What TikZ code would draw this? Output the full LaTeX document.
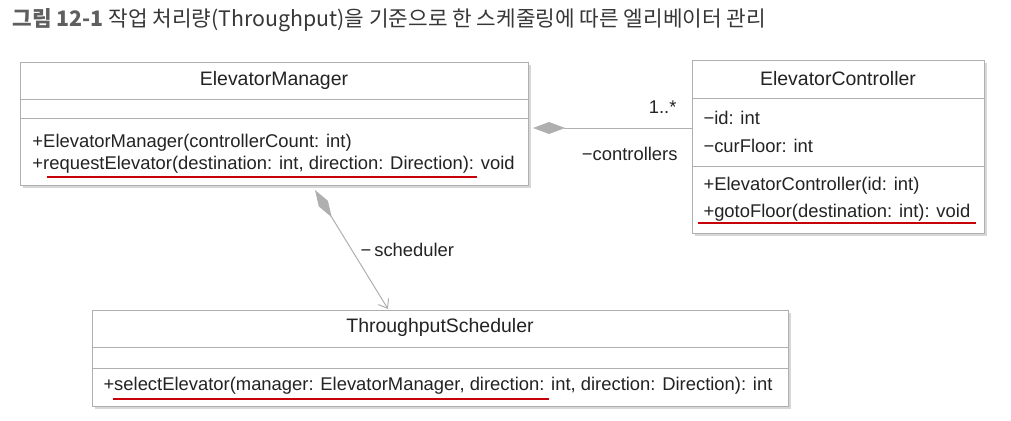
\documentclass[tikz,border=0pt]{standalone}
\usepackage{fontspec}
\setmainfont{Liberation Sans}
\newfontfamily\krfont{Noto Sans CJK KR}
\usetikzlibrary{arrows.meta}

\definecolor{umlline}{RGB}{175,175,175}
\definecolor{umlshadow}{RGB}{215,215,215}
\definecolor{umltext}{RGB}{35,35,35}
\definecolor{markred}{RGB}{200,0,10}
\definecolor{titlegray}{RGB}{95,95,95}
\definecolor{titletext}{RGB}{55,55,55}

\tikzset{every picture/.style={line width=0.75pt}}
\tikzset{
  classbox/.style={draw=umlline, fill=white, inner sep=0},
  member/.style={anchor=west, inner sep=0, text=umltext, font=\fontsize{13.8}{16}\selectfont},
  classname/.style={inner sep=0, text=umltext, font=\fontsize{14.6}{16}\selectfont},
  rolelabel/.style={inner sep=0, text=umltext, font=\fontsize{13.8}{16}\selectfont},
  redline/.style={draw=markred, line width=1.5pt},
  sepline/.style={draw=umlline}
}

\begin{document}
\begin{tikzpicture}[x=0.75pt,y=0.75pt,yscale=-1,xscale=1]
\useasboundingbox (0,0) rectangle (1011,421);

%title
\node [anchor=west, inner sep=0] (title) at (12,20) {\krfont\fontsize{16}{18}\selectfont\color{titlegray}\bfseries 그림 12-1 \color{titletext}\mdseries 작업 처리량(Throughput)을 기준으로 한 스케줄링에 따른 엘리베이터 관리};

%shadows
\fill [umlshadow] (23,65) rectangle (531,188);
\fill [umlshadow] (695,63) rectangle (987,236);
\fill [umlshadow] (95,313) rectangle (791,409);

%class boxes
\node [classbox, minimum width=381pt, minimum height=92.25pt] (manager) at (274,123.5) {};
\node [classbox, minimum width=219pt, minimum height=129.75pt] (controller) at (838,146.5) {};
\node [classbox, minimum width=522pt, minimum height=72pt] (scheduler) at (440,358) {};

\draw [sepline] (manager.west |- 0,99) -- (manager.east |- 0,99);
\draw [sepline] (manager.west |- 0,118) -- (manager.east |- 0,118);
\draw [sepline] (controller.west |- 0,98) -- (controller.east |- 0,98);
\draw [sepline] (controller.west |- 0,166) -- (controller.east |- 0,166);
\draw [sepline] (scheduler.west |- 0,347) -- (scheduler.east |- 0,347);
\draw [sepline] (scheduler.west |- 0,368) -- (scheduler.east |- 0,368);

%ElevatorManager
\node [classname] (mgrname) at (274,80) {ElevatorManager};
\node [member] (mgrctor) at (32,143) {+ElevatorManager(controllerCount: int)};
\node [member] (mgrreq) at (32,165) {+requestElevator(destination: int, direction: Direction): void};
\draw [redline] (47,177) -- (477,177);

%ElevatorController
\node [classname] (ctrlname) at (838,79) {ElevatorController};
\node [member] (ctrlid) at (703,118) {−id: int};
\node [member] (ctrlfloor) at (703,146) {−curFloor: int};
\node [member] (ctrlctor) at (703,186) {+ElevatorController(id: int)};
\node [member] (ctrlgoto) at (703,213) {+gotoFloor(destination: int): void};
\draw [redline] (698,223) -- (976,223);

%ThroughputScheduler
\node [classname] (schedname) at (440,327) {ThroughputScheduler};
\node [member] (schedsel) at (103,386) {+selectElevator(manager: ElevatorManager, direction: int, direction: Direction): int};
\draw [redline] (113,399) -- (549,399);

%associations
\coordinate (ctrlsrc) at (533,128);
\draw [umlline, {Diamond[length=24pt, width=9pt, fill=umlline, color=umlline]}-] (ctrlsrc) -- (controller.west |- ctrlsrc);
\node [rolelabel, anchor=east] (multi) at (677,107) {1..*};
\node [rolelabel, anchor=east] (ctrlrole) at (678,154) {−controllers};

\coordinate (schedsrc) at (315,190);
\coordinate (schedtip) at (388,309);
\draw [umlline, {Diamond[length=24pt, width=8pt, fill=umlline, color=umlline]}-{Straight Barb[length=6pt, width=9pt]}] (schedsrc) -- (schedtip);
\node [rolelabel, anchor=west] (schedrole) at (360,250) {−\thinspace scheduler};

\end{tikzpicture}
\end{document}
